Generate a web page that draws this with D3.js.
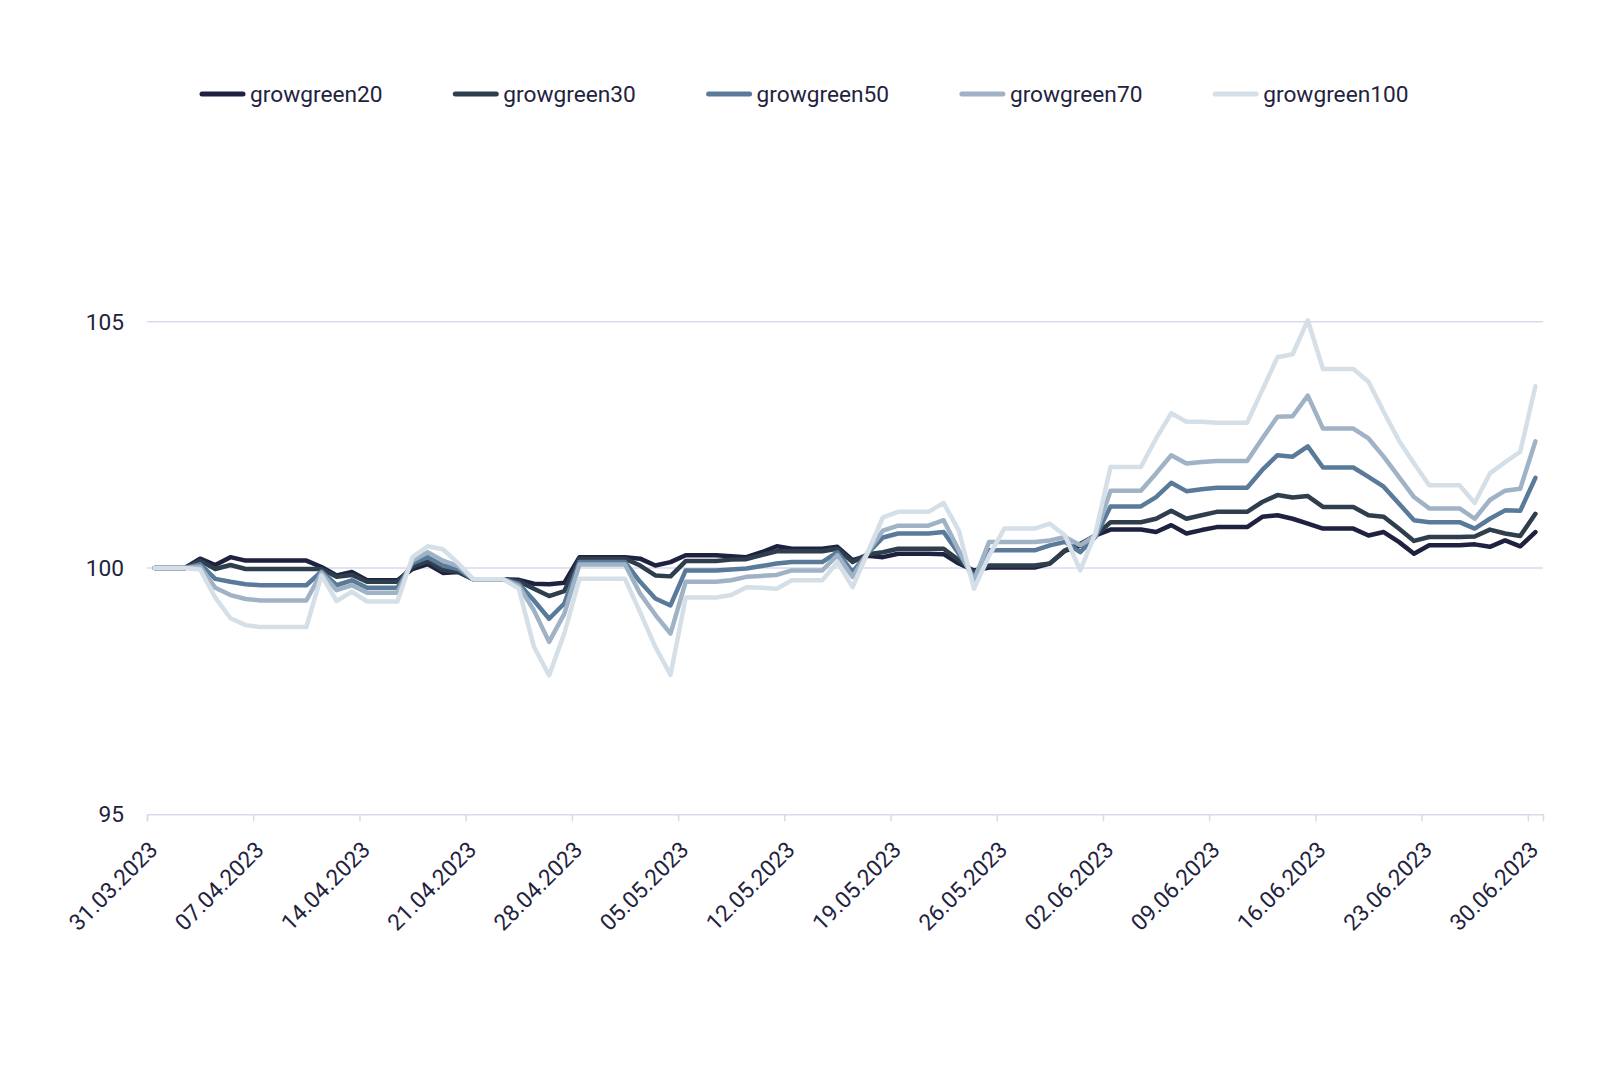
<!DOCTYPE html>
<html>
<head>
    <title>growgreen | Line Chart</title>
    <script src="https://d3js.org/d3.v7.min.js"></script>
    <style>
        body {
            margin: 0;
            background: #ffffff;
            font-family: Roboto, "Noto Sans", sans-serif;
        }
        .grid line,
        .axis-line {
            stroke: #d9d9ec;
            stroke-width: 1.5px;
        }
        .tick-label {
            font-size: 22.7px;
            fill: #1f2340;
        }
        .legend text {
            font-size: 22.7px;
            fill: #1f2340;
        }
        .series {
            fill: none;
            stroke-width: 4.5px;
            stroke-linejoin: round;
            stroke-linecap: round;
        }
    </style>
</head>
<body>
    <div id="chart"></div>

    <script>
        // series names and colours
        const seriesNames = ['growgreen20', 'growgreen30', 'growgreen50', 'growgreen70', 'growgreen100'];
        const seriesColors = ['#1f2140', '#2f3e4d', '#5a7a99', '#a0b2c6', '#d5dfe7'];

        // daily values 31.03.2023 .. 30.06.2023 (weekends repeat Friday)
        const g20 = [
            100, 100, 100, 100.19, 100.06, 100.22, 100.15, 100.15, 100.15, 100.15,
            100.15, 100.02, 99.85, 99.92, 99.75, 99.75, 99.75, 99.98, 100.08, 99.9,
            99.92, 99.77, 99.77, 99.77, 99.76, 99.68, 99.67, 99.7, 100.22, 100.22,
            100.22, 100.22, 100.19, 100.05, 100.12, 100.26, 100.26, 100.26, 100.24, 100.22,
            100.32, 100.44, 100.39, 100.39, 100.39, 100.43, 100.16, 100.25, 100.22, 100.29,
            100.29, 100.29, 100.28, 100.09, 99.95, 100.01, 100.01, 100.01, 100.01, 100.09,
            100.35, 100.45, 100.66, 100.78, 100.78, 100.78, 100.73, 100.87, 100.7, 100.77,
            100.83, 100.83, 100.83, 101.04, 101.07, 101.0, 100.9, 100.8, 100.8, 100.8,
            100.66, 100.73, 100.53, 100.29, 100.46, 100.46, 100.46, 100.48, 100.43, 100.56,
            100.44, 100.73
        ];
        const g30 = [
            100, 100, 100, 100.15, 99.98, 100.06, 99.98, 99.98, 99.98, 99.98,
            99.98, 99.98, 99.82, 99.86, 99.72, 99.72, 99.72, 100.03, 100.14, 99.96,
            99.93, 99.77, 99.77, 99.77, 99.73, 99.58, 99.43, 99.53, 100.19, 100.19,
            100.19, 100.19, 100.05, 99.85, 99.83, 100.14, 100.14, 100.14, 100.17, 100.18,
            100.26, 100.34, 100.34, 100.34, 100.34, 100.39, 100.12, 100.28, 100.32, 100.39,
            100.39, 100.39, 100.39, 100.16, 99.92, 100.05, 100.05, 100.05, 100.05, 100.09,
            100.36, 100.49, 100.66, 100.93, 100.93, 100.93, 101.0, 101.16, 101.0, 101.07,
            101.14, 101.14, 101.14, 101.34, 101.48, 101.43, 101.46, 101.24, 101.24, 101.24,
            101.07, 101.04, 100.8, 100.55, 100.63, 100.63, 100.63, 100.64, 100.78, 100.7,
            100.65, 101.1
        ];
        const g50 = [
            100, 100, 100, 100.08, 99.78, 99.72, 99.67, 99.65, 99.65, 99.65,
            99.65, 99.93, 99.65, 99.75, 99.6, 99.6, 99.6, 100.1, 100.22, 100.05,
            99.98, 99.77, 99.77, 99.77, 99.68, 99.34, 98.97, 99.28, 100.12, 100.12,
            100.12, 100.12, 99.72, 99.38, 99.24, 99.95, 99.95, 99.95, 99.97, 99.99,
            100.04, 100.09, 100.12, 100.12, 100.12, 100.32, 99.92, 100.3, 100.62, 100.7,
            100.7, 100.7, 100.73, 100.29, 99.82, 100.36, 100.36, 100.36, 100.36, 100.46,
            100.53, 100.32, 100.63, 101.25, 101.25, 101.25, 101.44, 101.73, 101.56, 101.6,
            101.63, 101.63, 101.63, 101.99, 102.29, 102.26, 102.47, 102.04, 102.04, 102.04,
            101.85, 101.65, 101.31, 100.97, 100.93, 100.93, 100.93, 100.8, 101.0, 101.17,
            101.16, 101.83
        ];
        const g70 = [
            100, 100, 100, 100.03, 99.6, 99.45, 99.37, 99.34, 99.34, 99.34,
            99.34, 99.9, 99.55, 99.65, 99.5, 99.5, 99.5, 100.15, 100.32, 100.15,
            100.04, 99.77, 99.77, 99.77, 99.64, 99.14, 98.5, 99.07, 100.07, 100.07,
            100.07, 100.07, 99.48, 99.05, 98.67, 99.72, 99.72, 99.72, 99.75, 99.82,
            99.84, 99.86, 99.95, 99.95, 99.95, 100.26, 99.82, 100.32, 100.76, 100.86,
            100.86, 100.86, 100.97, 100.36, 99.75, 100.53, 100.53, 100.53, 100.53, 100.56,
            100.63, 100.46, 100.66, 101.57, 101.57, 101.57, 101.92, 102.29, 102.12, 102.15,
            102.17, 102.17, 102.17, 102.63, 103.07, 103.08, 103.5, 102.83, 102.83, 102.83,
            102.63, 102.26, 101.85, 101.44, 101.21, 101.21, 101.21, 101.0, 101.38, 101.57,
            101.61, 102.57
        ];
        const g100 = [
            100, 100, 100, 99.97, 99.4, 98.98, 98.84, 98.8, 98.8, 98.8,
            98.8, 99.85, 99.33, 99.52, 99.32, 99.32, 99.32, 100.22, 100.44, 100.38,
            100.1, 99.77, 99.77, 99.77, 99.58, 98.4, 97.82, 98.67, 99.78, 99.78,
            99.78, 99.78, 99.1, 98.4, 97.83, 99.4, 99.4, 99.4, 99.45, 99.61,
            99.6, 99.58, 99.75, 99.75, 99.75, 100.12, 99.61, 100.32, 101.03, 101.14,
            101.14, 101.14, 101.32, 100.76, 99.58, 100.25, 100.8, 100.8, 100.8, 100.9,
            100.66, 99.95, 100.7, 102.05, 102.05, 102.05, 102.63, 103.14, 102.97, 102.97,
            102.95, 102.95, 102.95, 103.61, 104.28, 104.34, 105.03, 104.04, 104.04, 104.04,
            103.78, 103.17, 102.59, 102.12, 101.68, 101.68, 101.68, 101.32, 101.92, 102.15,
            102.36, 103.69
        ];
        const seriesValues = [g20, g30, g50, g70, g100];

        // axis ticks
        const xTickLabels = [
            '31.03.2023', '07.04.2023', '14.04.2023', '21.04.2023', '28.04.2023',
            '05.05.2023', '12.05.2023', '19.05.2023', '26.05.2023', '02.06.2023',
            '09.06.2023', '16.06.2023', '23.06.2023', '30.06.2023'
        ];
        const yTickValues = [95, 100, 105];

        const width = 1600;
        const height = 1074;
        const margin = { top: 321.7, right: 57, bottom: 259.7, left: 147 };

        const parseDay = d3.timeParse('%d.%m.%Y');
        // one point per calendar day, stamped at midday
        const dates = d3.timeDay.range(new Date(2023, 2, 31), new Date(2023, 6, 1))
            .map(d => d3.timeHour.offset(d, 12));

        const svg = d3.select('#chart').append('svg')
            .attr('width', width)
            .attr('height', height);

        svg.append('rect')
            .attr('width', width)
            .attr('height', height)
            .attr('fill', '#ffffff');

        const xScale = d3.scaleTime()
            .domain([new Date(2023, 2, 31), new Date(2023, 6, 1)])
            .range([margin.left, width - margin.right]);

        const yScale = d3.scaleLinear()
            .domain([95, 105])
            .range([height - margin.bottom, margin.top]);

        // horizontal grid lines
        const grid = svg.append('g').attr('class', 'grid');
        grid.selectAll('line')
            .data(yTickValues.filter(v => v !== 95))
            .enter().append('line')
            .attr('x1', margin.left)
            .attr('x2', width - margin.right)
            .attr('y1', d => yScale(d))
            .attr('y2', d => yScale(d));

        // y labels
        svg.append('g').selectAll('text')
            .data(yTickValues)
            .enter().append('text')
            .attr('class', 'tick-label')
            .attr('x', 124)
            .attr('y', d => yScale(d))
            .attr('dy', '0.35em')
            .attr('text-anchor', 'end')
            .text(d => d);

        // x axis
        const xTicks = xTickLabels.map(parseDay);
        const xAxis = d3.axisBottom(xScale)
            .tickValues(xTicks)
            .tickSize(7)
            .tickFormat('');

        const xAxisG = svg.append('g')
            .attr('transform', `translate(0,${yScale(95)})`)
            .call(xAxis);
        xAxisG.select('.domain')
            .attr('stroke', '#d9d9ec')
            .attr('stroke-width', 1.5);
        xAxisG.selectAll('.tick line')
            .attr('stroke', '#d9d9ec')
            .attr('stroke-width', 1.5);

        svg.append('g').selectAll('text')
            .data(xTicks)
            .enter().append('text')
            .attr('class', 'tick-label')
            .attr('text-anchor', 'end')
            .attr('transform', d => `translate(${xScale(d) + 12},${yScale(95) + 37}) rotate(-45)`)
            .text((d, i) => xTickLabels[i]);

        // lines
        const line = d3.line()
            .x((d, i) => xScale(dates[i]))
            .y(d => yScale(d));

        svg.append('g').selectAll('path')
            .data(seriesValues)
            .enter().append('path')
            .attr('class', 'series')
            .attr('stroke', (d, i) => seriesColors[i])
            .attr('d', line);

        // legend
        const legend = svg.append('g').attr('class', 'legend');
        const legendItem = legend.selectAll('g')
            .data(seriesNames)
            .enter().append('g')
            .attr('transform', (d, i) => `translate(${200 + i * 253.3},94)`);

        legendItem.append('line')
            .attr('x1', 2)
            .attr('x2', 43)
            .attr('stroke', (d, i) => seriesColors[i])
            .attr('stroke-width', 5)
            .attr('stroke-linecap', 'round');

        legendItem.append('text')
            .attr('x', 50)
            .attr('dy', '0.35em')
            .text(d => d);
    </script>
</body>
</html>
